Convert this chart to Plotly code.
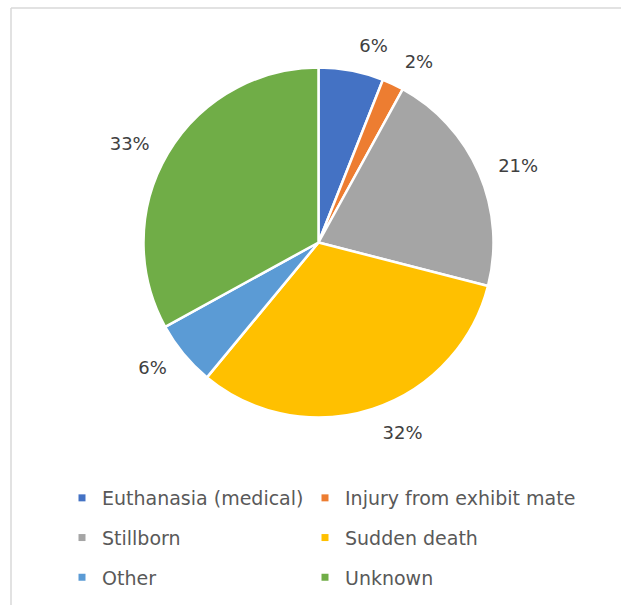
import plotly.graph_objects as go

categories = ["Euthanasia (medical)", "Injury from exhibit mate", "Stillborn",
              "Sudden death", "Other", "Unknown"]
values = [6, 2, 21, 32, 6, 33]
colors = ["#4472C4", "#ED7D31", "#A5A5A5", "#FFC000", "#5B9BD5", "#70AD47"]

W, H = 621, 605
cx, cy, r = 318.5, 242.5, 175
rl = 190  # radius of the invisible label pies

def dom(rad):
    return dict(x=[(cx - rad) / W, (cx + rad) / W],
                y=[(H - cy - rad) / H, (H - cy + rad) / H])

FONT = "DejaVu Sans"

fig = go.Figure()
# main pie
fig.add_trace(go.Pie(
    labels=categories, values=values, sort=False, direction="clockwise",
    rotation=0, marker=dict(colors=colors, line=dict(color="white", width=2.5)),
    textinfo="none", showlegend=False, domain=dom(r), hoverinfo="label+percent",
))
# invisible pies carrying the outside percentage labels (alternating slices,
# so neighbouring small labels do not get pushed apart)
for k in range(2):
    tt = ["%{percent:.0%}" if i % 2 == k else "" for i in range(len(values))]
    fig.add_trace(go.Pie(
        labels=categories, values=values, sort=False, direction="clockwise",
        rotation=0, marker=dict(colors=["rgba(0,0,0,0)"] * len(values), line=dict(width=0)),
        textinfo="none", texttemplate=tt, textposition="outside",
        outsidetextfont=dict(family=FONT, size=18, color="#404040"),
        showlegend=False, domain=dom(rl), hoverinfo="skip",
    ))

# legend entries (two columns)
for i, (c, col) in enumerate(zip(categories, colors)):
    fig.add_trace(go.Scatter(
        x=[None], y=[None], mode="markers", name=c,
        marker=dict(symbol="square", size=7, color=col),
        legend="legend" if i % 2 == 0 else "legend2",
        legendgroup=c, showlegend=True,
    ))

leg_common = dict(font=dict(family=FONT, size=19, color="#595959"),
                  orientation="v", yanchor="top", xanchor="left",
                  tracegroupgap=12, bgcolor="rgba(0,0,0,0)")

fig.update_layout(
    width=W, height=H, margin=dict(l=0, r=0, t=0, b=0),
    paper_bgcolor="white", plot_bgcolor="white",
    xaxis=dict(visible=False), yaxis=dict(visible=False),
    legend=dict(x=62 / W, y=(H - 479) / H, **leg_common),
    legend2=dict(x=305 / W, y=(H - 479) / H, **leg_common),
    shapes=[
        dict(type="line", xref="paper", yref="paper", x0=11 / W, x1=1.0,
             y0=(H - 8) / H, y1=(H - 8) / H, line=dict(color="#D9D9D9", width=1.5)),
        dict(type="line", xref="paper", yref="paper", x0=11 / W, x1=11 / W,
             y0=0, y1=(H - 8) / H, line=dict(color="#D9D9D9", width=1.5)),
    ],
)

fig.write_html("out.html")
